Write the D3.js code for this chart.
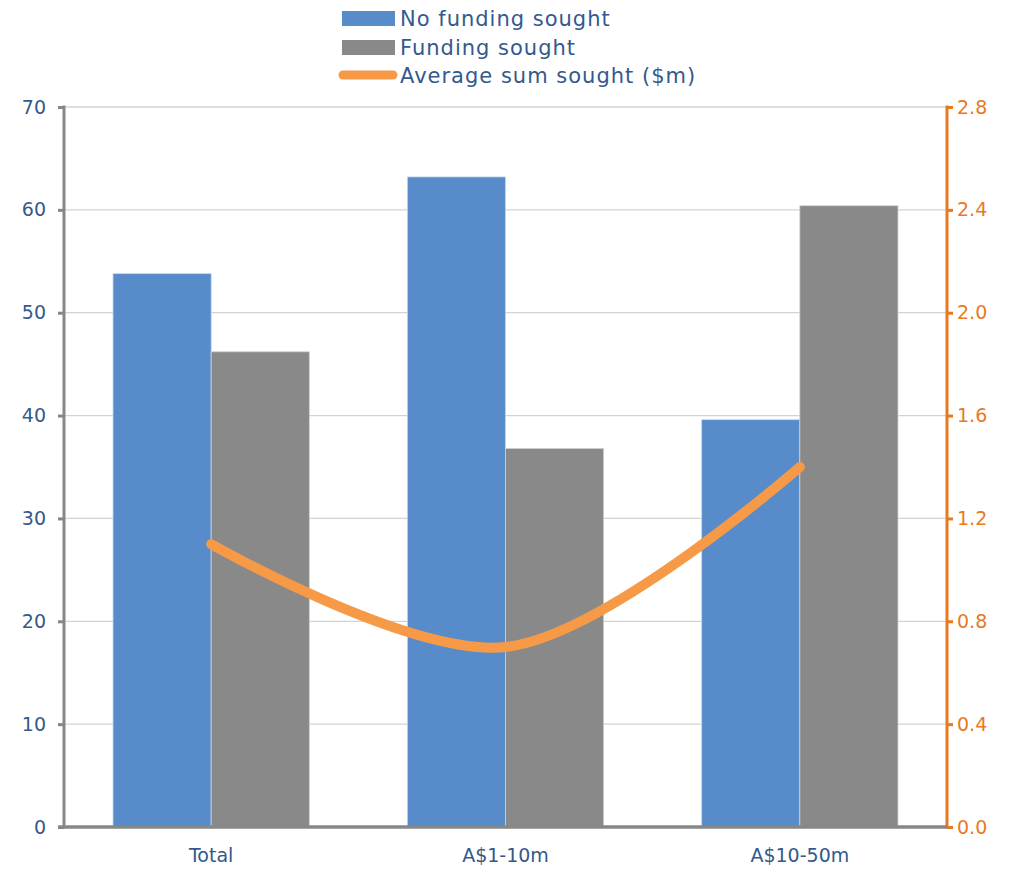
<!DOCTYPE html>
<html>
<head>
<meta charset="utf-8">
<script src="https://cdn.jsdelivr.net/npm/d3@7/dist/d3.min.js"></script>
<style>
  body { margin: 0; background: #fff; }
  svg { display: block; font-family: "DejaVu Sans", "Open Sans", sans-serif; }
</style>
</head>
<body>
<svg id="chart" width="1020" height="870"></svg>
<script>
// Survey categories and shares (%)
const categories = ["Total", "A$1-10m", "A$10-50m"];
const noFunding = [53.8, 63.2, 39.6];
const fundingSought = [46.2, 36.8, 60.4];
// Average sum sought, $m (right axis)
const avgSum = [1.1, 0.7, 1.4];
const leftTicks = [0, 10, 20, 30, 40, 50, 60, 70];
const rightTicks = [0, 0.4, 0.8, 1.2, 1.6, 2.0, 2.4, 2.8];
const seriesNames = ["No funding sought", "Funding sought", "Average sum sought ($m)"];

const colors = { blue: "#588BCA", gray: "#898989", orange: "#F79A48", axisText: "#34598C", rightText: "#E9791F" };
const fontFamily = '"DejaVu Sans", "Open Sans", sans-serif';

const svg = d3.select("#chart");
const m = { left: 64, right: 947, top: 107, bottom: 827 };

const x = d3.scaleBand().domain(categories).range([m.left, m.right]).paddingInner(0.333).paddingOuter(0.1665);
const xSub = d3.scaleBand().domain([0, 1]).range([0, x.bandwidth()]);
const yL = d3.scaleLinear().domain([0, 70]).range([m.bottom, m.top]);
const yR = d3.scaleLinear().domain([0, 2.8]).range([m.bottom, m.top]);

// Gridlines
svg.append("g").selectAll("line").data(leftTicks.slice(1)).join("line")
  .attr("x1", m.left).attr("x2", m.right)
  .attr("y1", d => yL(d)).attr("y2", d => yL(d))
  .attr("stroke", "#d3d3d3").attr("stroke-width", 1.3);

// Bars
const groups = svg.append("g").selectAll("g").data(categories).join("g")
  .attr("transform", d => `translate(${x(d)},0)`);
groups.append("rect")
  .attr("x", xSub(0)).attr("width", xSub.bandwidth())
  .attr("y", (d, i) => yL(noFunding[i])).attr("height", (d, i) => yL(0) - yL(noFunding[i]))
  .attr("fill", colors.blue).attr("stroke", "#c8d7ee").attr("stroke-width", 0.8);
groups.append("rect")
  .attr("x", xSub(1)).attr("width", xSub.bandwidth())
  .attr("y", (d, i) => yL(fundingSought[i])).attr("height", (d, i) => yL(0) - yL(fundingSought[i]))
  .attr("fill", colors.gray).attr("stroke", "#d0d0d0").attr("stroke-width", 0.8);

// Left axis
const leftAxis = svg.append("g").attr("transform", `translate(${m.left},0)`)
  .call(d3.axisLeft(yL).tickValues(leftTicks).tickSize(6).tickPadding(12).tickFormat(d3.format("d")))
  .attr("font-family", fontFamily);
leftAxis.select(".domain").remove();
leftAxis.selectAll(".tick line").attr("stroke", "#878787").attr("stroke-width", 3);
leftAxis.selectAll(".tick text").attr("fill", colors.axisText).attr("font-size", 19);
leftAxis.append("line").attr("x1", 0).attr("x2", 0).attr("y1", m.top - 1.5).attr("y2", m.bottom)
  .attr("stroke", "#878787").attr("stroke-width", 3);

// Right axis
const rightAxis = svg.append("g").attr("transform", `translate(${m.right},0)`)
  .call(d3.axisRight(yR).tickValues(rightTicks).tickSize(6).tickPadding(4).tickFormat(d3.format(".1f")))
  .attr("font-family", fontFamily);
rightAxis.select(".domain").remove();
rightAxis.selectAll(".tick line").attr("stroke", colors.rightText).attr("stroke-width", 3);
rightAxis.selectAll(".tick text").attr("fill", colors.rightText).attr("font-size", 19);
rightAxis.append("line").attr("x1", 0).attr("x2", 0).attr("y1", m.top - 1.5).attr("y2", m.bottom + 1.5)
  .attr("stroke", colors.rightText).attr("stroke-width", 3);

// Bottom axis
const bottomAxis = svg.append("g").attr("transform", `translate(0,${m.bottom})`)
  .call(d3.axisBottom(x).tickSize(0).tickPadding(22))
  .attr("font-family", fontFamily);
bottomAxis.select(".domain").remove();
bottomAxis.selectAll(".tick text").attr("fill", colors.axisText).attr("font-size", 19);
bottomAxis.append("line").attr("x1", m.left - 6).attr("x2", m.right).attr("y1", 0).attr("y2", 0)
  .attr("stroke", "#878787").attr("stroke-width", 3.5);

// Smoothed line for average sum
const line = d3.line()
  .x((d, i) => x(categories[i]) + x.bandwidth() / 2)
  .y(d => yR(d))
  .curve(d3.curveCatmullRom.alpha(0.5));
svg.append("path").datum(avgSum).attr("d", line)
  .attr("fill", "none").attr("stroke", colors.orange).attr("stroke-width", 10)
  .attr("stroke-linecap", "round").attr("stroke-linejoin", "round");

// Legend
const legend = svg.append("g");
const ly = [18, 47, 75];
legend.append("rect").attr("x", 342).attr("y", ly[0] - 7).attr("width", 53).attr("height", 15).attr("fill", colors.blue);
legend.append("rect").attr("x", 342).attr("y", ly[1] - 7).attr("width", 53).attr("height", 15).attr("fill", colors.gray);
legend.append("line").attr("x1", 343).attr("x2", 393).attr("y1", ly[2]).attr("y2", ly[2])
  .attr("stroke", colors.orange).attr("stroke-width", 9).attr("stroke-linecap", "round");
legend.selectAll("text").data(seriesNames).join("text")
  .attr("x", 400).attr("y", (d, i) => ly[i]).attr("dy", "0.36em")
  .attr("fill", colors.axisText).attr("font-size", 21).attr("letter-spacing", 1.0).text(d => d);
</script>
</body>
</html>
